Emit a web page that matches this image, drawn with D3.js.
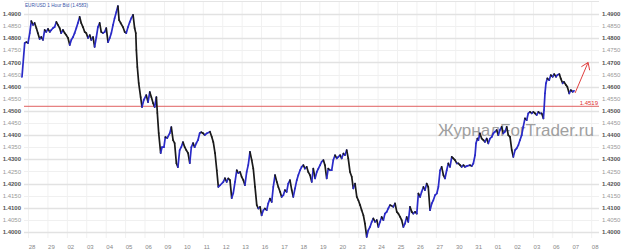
<!DOCTYPE html>
<html>
<head>
<meta charset="utf-8">
<title>EUR/USD 1 Hour Bid</title>
<script src="https://d3js.org/d3.v7.min.js"></script>
<style>
  body { margin: 0; background: #fff; }
  svg { display: block; font-family: Arial, "Liberation Sans", sans-serif; }
</style>
</head>
<body>
<svg width="622" height="251"></svg>
<script>
// trading days on the x axis (28 Apr -> 08 Jun)
const dayLabels = ["28","29","02","03","04","05","06","09","10","11","12","13","16","17","18","19","20",
                   "23","24","25","26","27","30","31","01","02","03","06","07","08"];

// price ticks, every 50 pips
const priceTicks = d3.range(0, 19).map(i => +(1.4 + i * 0.005).toFixed(4));

// hourly bid: [trading day offset, bid]
const bidSeries = [
  [-0.31,1.4640],[-0.17,1.4780],[-0.09,1.4784],[0.00,1.4780],[0.09,1.4821],[0.17,1.4871],[0.26,1.4855],[0.34,1.4863],
  [0.43,1.4842],[0.51,1.4821],[0.60,1.4797],[0.68,1.4805],[0.77,1.4793],[0.86,1.4834],[0.94,1.4826],[1.03,1.4838],
  [1.12,1.4826],[1.20,1.4834],[1.29,1.4842],[1.37,1.4846],[1.46,1.4867],[1.54,1.4855],[1.63,1.4842],[1.71,1.4821],
  [1.80,1.4834],[1.89,1.4821],[1.97,1.4813],[2.06,1.4801],[2.15,1.4772],[2.23,1.4793],[2.32,1.4805],[2.40,1.4821],
  [2.49,1.4842],[2.57,1.4863],[2.66,1.4888],[2.74,1.4863],[2.83,1.4846],[2.92,1.4826],[3.00,1.4821],[3.09,1.4801],
  [3.18,1.4813],[3.26,1.4793],[3.35,1.4805],[3.43,1.4764],[3.52,1.4805],[3.60,1.4846],[3.69,1.4863],[3.77,1.4826],
  [3.86,1.4821],[3.95,1.4826],[4.03,1.4842],[4.12,1.4784],[4.21,1.4801],[4.29,1.4821],[4.38,1.4855],[4.46,1.4883],
  [4.55,1.4908],[4.63,1.4933],[4.69,1.4875],[4.77,1.4863],[4.89,1.4846],[4.98,1.4826],[5.06,1.4821],[5.15,1.4846],
  [5.24,1.4867],[5.32,1.4883],[5.41,1.4896],[5.49,1.4842],[5.55,1.4821],[5.58,1.4751],[5.63,1.4681],[5.70,1.4615],
  [5.80,1.4557],[5.87,1.4516],[5.96,1.4545],[6.09,1.4565],[6.18,1.4536],[6.27,1.4578],[6.35,1.4557],[6.44,1.4532],
  [6.52,1.4516],[6.61,1.4557],[6.66,1.4491],[6.73,1.4408],[6.83,1.4326],[6.90,1.4350],[7.00,1.4350],[7.07,1.4392],
  [7.17,1.4388],[7.30,1.4408],[7.38,1.4433],[7.47,1.4379],[7.55,1.4367],[7.64,1.4284],[7.72,1.4268],[7.81,1.4338],
  [7.89,1.4350],[7.98,1.4371],[8.07,1.4350],[8.15,1.4338],[8.24,1.4326],[8.33,1.4284],[8.41,1.4350],[8.50,1.4367],
  [8.58,1.4350],[8.67,1.4367],[8.75,1.4379],[8.84,1.4408],[8.92,1.4412],[9.01,1.4408],[9.10,1.4400],[9.20,1.4407],
  [9.37,1.4414],[9.46,1.4393],[9.54,1.4372],[9.63,1.4326],[9.72,1.4255],[9.80,1.4186],[9.89,1.4193],[10.06,1.4207],
  [10.14,1.4222],[10.23,1.4207],[10.31,1.4221],[10.40,1.4214],[10.49,1.4140],[10.57,1.4160],[10.66,1.4207],[10.75,1.4255],
  [10.83,1.4243],[10.92,1.4248],[11.00,1.4228],[11.09,1.4214],[11.17,1.4193],[11.26,1.4248],[11.34,1.4276],[11.43,1.4331],
  [11.52,1.4297],[11.60,1.4262],[11.69,1.4186],[11.78,1.4111],[11.86,1.4097],[11.95,1.4104],[12.03,1.4069],[12.12,1.4090],
  [12.20,1.4097],[12.29,1.4090],[12.37,1.4118],[12.46,1.4138],[12.55,1.4124],[12.63,1.4186],[12.72,1.4235],[12.81,1.4207],
  [12.89,1.4186],[12.98,1.4166],[13.06,1.4145],[13.15,1.4152],[13.23,1.4173],[13.32,1.4166],[13.40,1.4200],[13.49,1.4214],
  [13.58,1.4173],[13.66,1.4145],[13.75,1.4180],[13.84,1.4214],[13.92,1.4235],[14.01,1.4255],[14.09,1.4269],[14.18,1.4276],
  [14.26,1.4262],[14.35,1.4269],[14.43,1.4248],[14.52,1.4235],[14.61,1.4207],[14.69,1.4262],[14.78,1.4221],[14.87,1.4248],
  [14.95,1.4262],[15.04,1.4276],[15.12,1.4290],[15.21,1.4297],[15.29,1.4276],[15.38,1.4221],[15.46,1.4262],[15.55,1.4255],
  [15.64,1.4255],[15.72,1.4297],[15.81,1.4317],[15.90,1.4304],[15.98,1.4310],[16.07,1.4317],[16.15,1.4304],[16.24,1.4324],
  [16.32,1.4317],[16.41,1.4338],[16.49,1.4304],[16.58,1.4248],[16.67,1.4228],[16.75,1.4180],[16.84,1.4200],[16.93,1.4145],
  [17.01,1.4131],[17.10,1.4111],[17.18,1.4090],[17.27,1.4069],[17.35,1.4035],[17.44,1.3980],[17.52,1.4007],[17.61,1.4021],
  [17.70,1.4042],[17.78,1.4056],[17.87,1.4042],[17.96,1.4049],[18.04,1.4021],[18.13,1.4042],[18.21,1.4062],[18.30,1.4049],
  [18.38,1.4076],[18.47,1.4083],[18.55,1.4097],[18.64,1.4111],[18.81,1.4104],[18.90,1.4118],[18.99,1.4083],[19.07,1.4076],
  [19.16,1.4062],[19.24,1.4049],[19.33,1.4021],[19.41,1.4035],[19.50,1.4062],[19.58,1.4042],[19.67,1.4104],[19.76,1.4083],
  [19.84,1.4076],[19.93,1.4083],[20.02,1.4076],[20.10,1.4159],[20.19,1.4145],[20.27,1.4166],[20.36,1.4186],[20.44,1.4173],
  [20.53,1.4200],[20.61,1.4186],[20.70,1.4090],[20.79,1.4118],[20.87,1.4131],[20.96,1.4152],[21.05,1.4159],[21.13,1.4186],
  [21.22,1.4255],[21.30,1.4269],[21.39,1.4235],[21.47,1.4221],[21.56,1.4255],[21.64,1.4283],[21.73,1.4269],[21.82,1.4310],
  [21.90,1.4304],[21.99,1.4297],[22.08,1.4283],[22.16,1.4283],[22.25,1.4276],[22.33,1.4269],[22.42,1.4276],[22.50,1.4269],
  [22.59,1.4272],[22.76,1.4276],[22.85,1.4272],[22.93,1.4283],[23.02,1.4317],[23.07,1.4366],[23.14,1.4386],[23.19,1.4379],
  [23.27,1.4407],[23.36,1.4386],[23.45,1.4379],[23.53,1.4372],[23.62,1.4386],[23.70,1.4366],[23.79,1.4386],[23.88,1.4393],
  [23.96,1.4407],[24.05,1.4414],[24.13,1.4421],[24.22,1.4400],[24.30,1.4421],[24.39,1.4434],[24.47,1.4407],[24.56,1.4414],
  [24.65,1.4434],[24.73,1.4400],[24.82,1.4393],[24.91,1.4338],[24.99,1.4310],[25.08,1.4338],[25.16,1.4345],[25.25,1.4359],
  [25.33,1.4379],[25.42,1.4400],[25.50,1.4434],[25.59,1.4469],[25.68,1.4462],[25.76,1.4490],[25.85,1.4496],[25.94,1.4490],
  [26.02,1.4496],[26.11,1.4490],[26.19,1.4483],[26.28,1.4496],[26.36,1.4490],[26.45,1.4490],[26.54,1.4469],[26.57,1.4503],
  [26.62,1.4572],[26.67,1.4614],[26.74,1.4634],[26.84,1.4627],[26.92,1.4648],[27.02,1.4641],[27.09,1.4652],[27.19,1.4641],
  [27.26,1.4648],[27.36,1.4652],[27.43,1.4634],[27.53,1.4614],[27.60,1.4620],[27.70,1.4607],[27.77,1.4600],[27.87,1.4572],
  [27.95,1.4586],[28.05,1.4579],[28.12,1.4583]
];

const lastBid = 1.4583;
const levelPrice = 1.4519;
// hand-drawn forecast arrow: [day offset, price]
const arrowPath = [[28.17, 1.4574], [28.84, 1.4700]];

const svg = d3.select("svg");
const left = 24, right = 599;

const x = d3.scaleLinear().domain([0, dayLabels.length - 1]).range([28, 591.2]);
const y = d3.scaleLinear().domain([1.40, 1.49]).range([232, 14]);
const isMajor = v => Math.round(v * 1000) % 10 === 0;

// top frame line
svg.append("line")
  .attr("x1", left).attr("x2", right).attr("y1", 1.5).attr("y2", 1.5)
  .attr("stroke", "#e4e4e4");

// vertical day grid
svg.append("g").selectAll("line")
  .data(dayLabels.map((d, i) => i).filter(i => x(i) < right))
  .join("line")
    .attr("x1", i => x(i) + 0.5).attr("x2", i => x(i) + 0.5)
    .attr("y1", 2).attr("y2", 238)
    .attr("stroke", "#f1f1f1");

// horizontal price grid
svg.append("g").selectAll("line")
  .data(priceTicks)
  .join("line")
    .attr("x1", left).attr("x2", right)
    .attr("y1", d => Math.round(y(d)) + 0.5).attr("y2", d => Math.round(y(d)) + 0.5)
    .attr("stroke", d => isMajor(d) ? "#e2e2e2" : "#f0f0f0")
    .attr("stroke-width", d => isMajor(d) ? 1.5 : 1);

// price labels, both sides
[{ xx: 21, anchor: "end" }, { xx: 602, anchor: "start" }].forEach(side => {
  svg.append("g").selectAll("text")
    .data(priceTicks)
    .join("text")
      .attr("x", side.xx)
      .attr("y", d => y(d))
      .attr("dy", "0.35em")
      .attr("text-anchor", side.anchor)
      .attr("font-size", 6)
      .attr("font-weight", d => isMajor(d) ? "bold" : "normal")
      .attr("fill", d => isMajor(d) ? "#555" : "#999")
      .text(d => d.toFixed(4));
});

// day labels
svg.append("g").selectAll("text")
  .data(dayLabels)
  .join("text")
    .attr("x", (d, i) => x(i) + 4)
    .attr("y", 249)
    .attr("text-anchor", "middle")
    .attr("font-size", 6)
    .attr("fill", "#888")
    .text(d => d);

// watermark
svg.append("text")
  .attr("x", 438).attr("y", 136)
  .attr("font-size", 17)
  .attr("fill", "#a0a0a0")
  .text("ЖурналForTrader.ru");

// support level
svg.append("line")
  .attr("x1", left).attr("x2", right)
  .attr("y1", y(levelPrice)).attr("y2", y(levelPrice))
  .attr("stroke", "#e06060").attr("stroke-width", 1);
svg.append("text")
  .attr("x", 598).attr("y", y(levelPrice) - 1.5)
  .attr("text-anchor", "end")
  .attr("font-size", 6)
  .attr("fill", "#e03030")
  .text(levelPrice.toFixed(4));

// price line, blue when rising, black when falling
const segs = d3.pairs(bidSeries);
svg.append("g").selectAll("line")
  .data(segs)
  .join("line")
    .attr("x1", d => x(d[0][0])).attr("y1", d => y(d[0][1]))
    .attr("x2", d => x(d[1][0])).attr("y2", d => y(d[1][1]))
    .attr("stroke", d => d[1][1] >= d[0][1] ? "#2a2ac8" : "#1a1a1a")
    .attr("stroke-width", 1.7)
    .attr("stroke-linecap", "round");

// forecast arrow
const ax0 = x(arrowPath[0][0]), ay0 = y(arrowPath[0][1]);
const ax1 = x(arrowPath[1][0]), ay1 = y(arrowPath[1][1]);
const ang = Math.atan2(ay1 - ay0, ax1 - ax0);
const head = 8;
svg.append("path")
  .attr("d", `M${ax0},${ay0}L${ax1},${ay1}` +
    `M${ax1 - head * Math.cos(ang - 0.6)},${ay1 - head * Math.sin(ang - 0.6)}L${ax1},${ay1}` +
    `L${ax1 - head * Math.cos(ang + 0.6)},${ay1 - head * Math.sin(ang + 0.6)}`)
  .attr("fill", "none")
  .attr("stroke", "#e04040")
  .attr("stroke-width", 1);

// title
svg.append("text")
  .attr("x", 25).attr("y", 7)
  .attr("font-size", 6)
  .attr("fill", "#3a55a8")
  .attr("textLength", 63)
  .attr("lengthAdjust", "spacingAndGlyphs")
  .text(`EUR/USD 1 Hour Bid (${lastBid.toFixed(4)})`);
</script>
</body>
</html>
